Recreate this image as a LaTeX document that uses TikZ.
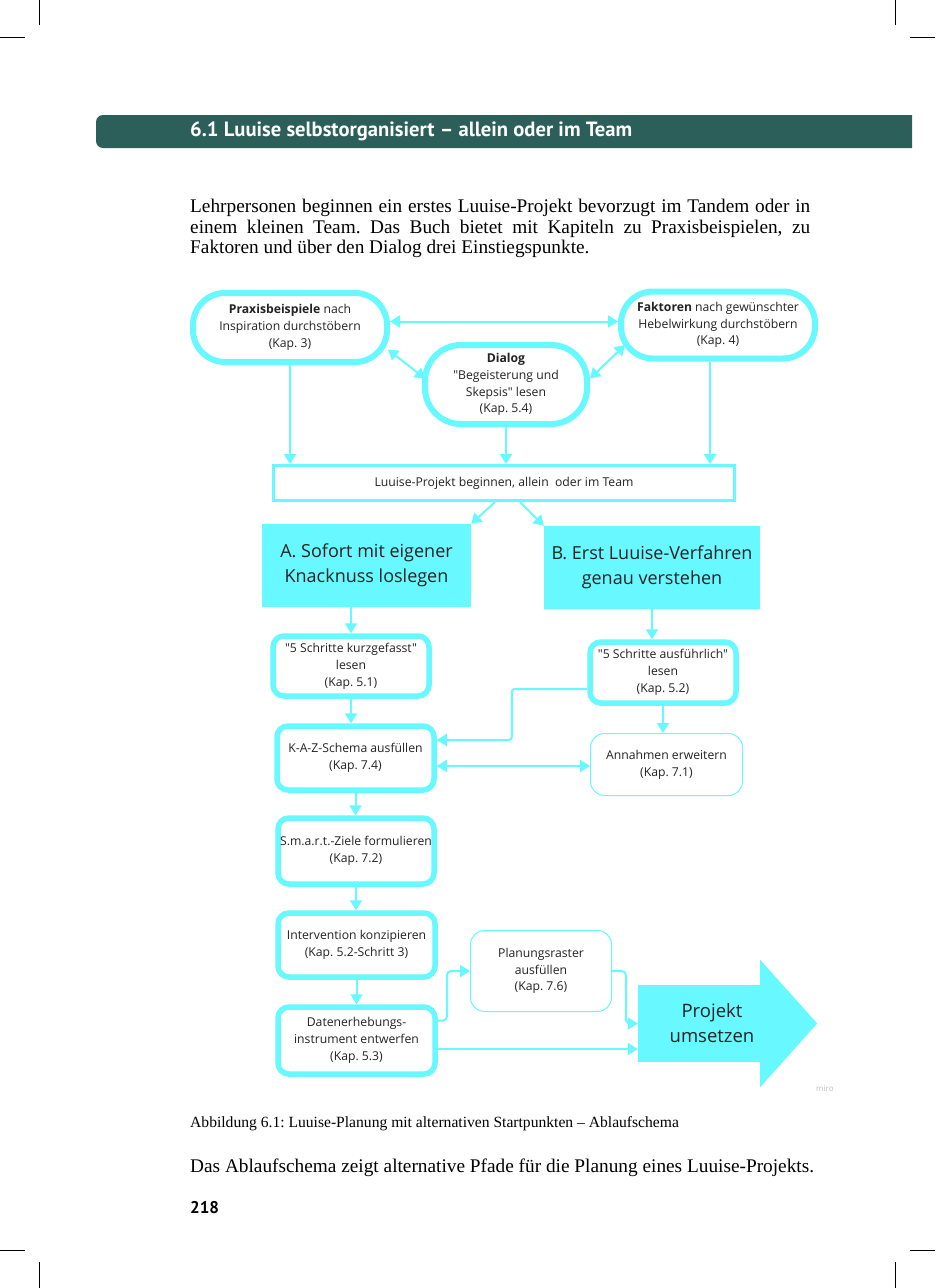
\documentclass[tikz,border=0pt]{standalone}
\usepackage{fontspec}
\setmainfont{Liberation Serif}
\newfontfamily\miro{Open Sans}
\newfontfamily\gill{PT Sans}
\usetikzlibrary{arrows.meta,calc}
\definecolor{luucyan}{RGB}{104,248,255}
\definecolor{luuteal}{RGB}{44,95,90}
\definecolor{luutext}{RGB}{35,35,35}
\frenchspacing
\tikzset{
  crop/.style={line width=0.8pt},
  startbox/.style={draw=luucyan, line width=6pt, rounded corners=32pt, inner sep=0pt, align=center, text=luutext, font=\miro\fontsize{12.2}{16.8}\selectfont},
  stepbox/.style={draw=luucyan, line width=5.5pt, rounded corners=11pt, inner sep=0pt, align=center, text=luutext, font=\miro\fontsize{12.2}{16.8}\selectfont},
  sidebox/.style={draw=luucyan, line width=1pt, rounded corners=14pt, inner sep=0pt, align=center, text=luutext, font=\miro\fontsize{12.2}{16.8}\selectfont},
  pathbox/.style={fill=luucyan, inner sep=0pt, align=center, text=luutext, font=\miro\fontsize{18}{25}\selectfont},
  flowline/.style={draw=luucyan, line width=2pt, -{Triangle[width=12pt,length=10pt]}},
  twoway/.style={flowline, {Triangle[width=12pt,length=10pt]}-{Triangle[width=12pt,length=10pt]}},
}
\begin{document}
\begin{tikzpicture}[x=1pt,y=-1pt]
    \useasboundingbox (0,0) rectangle (935,1288);
    \fill[white] (0,0) rectangle (935,1288);
    \draw[crop] (39,0) -- (39,25);
    \draw[crop] (0,37) -- (25,37);
    \draw[crop] (895,0) -- (895,25);
    \draw[crop] (910,37) -- (935,37);
    \draw[crop] (0,1250) -- (25,1250);
    \draw[crop] (39,1262) -- (39,1288);
    \draw[crop] (910,1250) -- (935,1250);
    \draw[crop] (895,1262) -- (895,1288);

    \fill[luuteal] (912,115) [rounded corners=7pt] -- (96,115) -- (96,148) [sharp corners] -- (912,148) -- cycle;
    \node[anchor=west, inner sep=0pt, text=white, font=\gill\bfseries\fontsize{20.6}{22}\selectfont] (title) at (190,131) {6.1 Luuise selbstorganisiert – allein oder im Team};

    \node[anchor=north west, inner sep=0pt, text width=620pt, align=justify, font=\fontsize{19.3}{20.5}\selectfont] (intro) at (190,199)
        {Lehrpersonen beginnen ein erstes Luuise-Projekt bevorzugt im Tandem oder in\linebreak
         einem kleinen Team. Das Buch bietet mit Kapiteln zu Praxisbeispielen, zu\linebreak
         Faktoren und über den Dialog drei Einstiegspunkte.};

    \node[startbox, minimum width=194pt, minimum height=69pt] (praxis) at (290,327.5) {\textbf{Praxisbeispiele} nach\\Inspiration durchstöbern\\(Kap. 3)};
    \node[startbox, minimum width=194pt, minimum height=67pt] (faktoren) at (718,325) {\textbf{Faktoren} nach gewünschter\\Hebelwirkung durchstöbern\\(Kap. 4)};
    \node[startbox, minimum width=162pt, minimum height=79pt, rounded corners=36pt] (dialog) at (506,384.5) {\textbf{Dialog}\\"Begeisterung und\\Skepsis" lesen\\(Kap. 5.4)};
    \node[draw=luucyan, line width=3pt, inner sep=0pt, minimum width=461pt, minimum height=35pt, text=luutext, font=\miro\fontsize{12.2}{16.8}\selectfont] (luuise) at (504,483) {Luuise-Projekt beginnen, allein~ oder im Team};

    \node[pathbox, minimum width=209pt, minimum height=83pt] (patha) at (366.5,565.5) {A. Sofort mit eigener\\Knacknuss loslegen};
    \node[pathbox, minimum width=216pt, minimum height=83pt] (pathb) at (652,567.5) {B. Erst Luuise-Verfahren\\genau verstehen};

    \node[stepbox, minimum width=156pt, minimum height=60pt] (kurz) at (351,666) {"5 Schritte kurzgefasst"\\lesen\\(Kap. 5.1)};
    \node[stepbox, minimum width=146pt, minimum height=61pt] (ausf) at (663,672.5) {"5 Schritte ausführlich"\\lesen\\(Kap. 5.2)};
    \node[stepbox, minimum width=157pt, minimum height=64pt] (kaz) at (355.5,758) {K-A-Z-Schema ausfüllen\\(Kap. 7.4)};
    \node[sidebox, minimum width=152pt, minimum height=62pt] (annahmen) at (666.5,764.5) {Annahmen erweitern\\(Kap. 7.1)};
    \node[stepbox, minimum width=156pt, minimum height=66pt] (smart) at (356,851) {S.m.a.r.t.-Ziele formulieren\\(Kap. 7.2)};
    \node[stepbox, minimum width=157pt, minimum height=64pt] (interv) at (356.5,945) {Intervention konzipieren\\(Kap. 5.2-Schritt 3)};
    \node[stepbox, minimum width=157pt, minimum height=67pt] (daten) at (356.5,1040.5) {Datenerhebungs-\\instrument entwerfen\\(Kap. 5.3)};
    \node[sidebox, minimum width=141pt, minimum height=81pt] (planung) at (541,971) {Planungsraster\\ausfüllen\\(Kap. 7.6)};

    \node[fill=luucyan, inner sep=0pt, minimum width=122pt, minimum height=77pt] (goal) at (699,1023.5) {};
    \fill[luucyan] (goal.north east) -- ++(0,-25) -- ($(goal.east)+(57,0)$) -- ($(goal.south east)+(0,25)$) -- (goal.south east) -- cycle;
    \node[align=center, inner sep=0pt, text=luutext, font=\miro\fontsize{18.5}{25}\selectfont] (goaltext) at (712,1023.5) {Projekt\\umsetzen};
    \node[anchor=west, inner sep=0pt, text=black!25, font=\miro\fontsize{8}{10}\selectfont] (miro) at (816,1089) {miro};

    \draw[twoway] ([yshift=6pt]praxis.east) -- ([yshift=6pt]praxis.east -| faktoren.west);
    \draw[twoway] ($(praxis.east)+(-2,22)$) -- ($(dialog.west)+(3,-6)$);
    \draw[twoway] ($(dialog.east)+(0,-6)$) -- ($(faktoren.west)+(7,20)$);
    \draw[flowline] (praxis.south) -- (praxis.south |- luuise.north);
    \draw[flowline] (dialog.south) -- (dialog.south |- luuise.north);
    \draw[flowline] ([xshift=-8pt]faktoren.south) -- ([xshift=-8pt]faktoren.south |- luuise.north);
    \draw[flowline] ([xshift=-9pt]luuise.south) -- (patha.north east);
    \draw[flowline] ([xshift=16pt]luuise.south) -- (pathb.north west);
    \draw[flowline] (patha.south -| kurz.north) -- (kurz.north);
    \draw[flowline] (pathb.south) -- (pathb.south |- ausf.north);
    \draw[flowline] (kurz.south) -- (kurz.south |- kaz.north);
    \draw[flowline, rounded corners=3pt] ([yshift=-16.5pt]ausf.west) -| ($(kaz.east)+(75,-18)$) -- ([yshift=18pt]kaz.east);
    \draw[flowline] (ausf.south) -- (ausf.south |- annahmen.north);
    \draw[twoway] ([yshift=-8pt]kaz.east) -- ([yshift=-8pt]kaz.east -| annahmen.west);
    \draw[flowline] (kaz.south) -- (kaz.south |- smart.north);
    \draw[flowline] (smart.south) -- (smart.south |- interv.north);
    \draw[flowline] (interv.south) -- (interv.south |- daten.north);
    \draw[flowline, rounded corners=4pt] ([yshift=20pt]daten.east) -| ($(planung.west)+(-23,0)$) -- (planung.west);
    \draw[flowline, rounded corners=4pt] (planung.east) -| ($(goal.west)+(-12,0)$) -- (goal.west);
    \draw[flowline] ([yshift=-8.5pt]daten.east) -- ([yshift=-8.5pt]daten.east -| goal.west);

    \node[anchor=west, inner sep=0pt, font=\fontsize{15.6}{17}\selectfont] (caption) at (190,1124) {Abbildung 6.1: Luuise-Planung mit alternativen Startpunkten – Ablaufschema};
    \node[anchor=west, inner sep=0pt, font=\fontsize{19.3}{20.5}\selectfont] (outro) at (190,1168) {Das Ablaufschema zeigt alternative Pfade für die Planung eines Luuise-Projekts.};
    \node[anchor=west, inner sep=0pt, font=\gill\bfseries\fontsize{17}{20}\selectfont] (pageno) at (190,1208) {218};
\end{tikzpicture}
\end{document}
